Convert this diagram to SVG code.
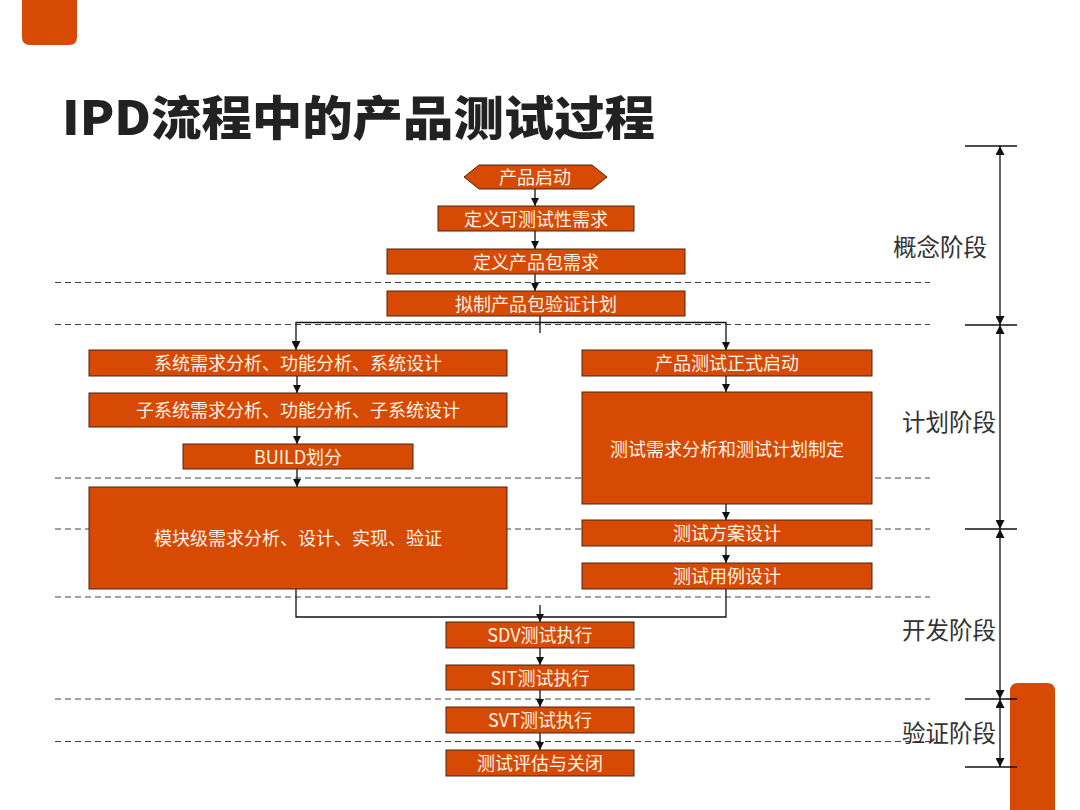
<svg xmlns="http://www.w3.org/2000/svg" width="1080" height="810" viewBox="0 0 1080 810">
<defs>
<style>
.box{fill:#D64A04;stroke:#4a2410;stroke-width:1}
.t{font-family:"Microsoft YaHei","Noto Sans CJK SC","Liberation Sans",sans-serif;font-size:18px;fill:#FFF3E6;text-anchor:middle;dominant-baseline:central}
.dash{stroke:#444;stroke-width:1.2;stroke-dasharray:6 4;fill:none}
.c{stroke:#111;stroke-width:1.3;fill:none}
.ph{font-family:"Microsoft YaHei","Noto Sans CJK SC","Liberation Sans",sans-serif;font-size:23.5px;fill:#333;dominant-baseline:central}
.ax{stroke:#111;stroke-width:1.3;fill:none}
</style>
<marker id="ah" viewBox="0 0 10 10" refX="10" refY="5" markerWidth="8" markerHeight="8" markerUnits="userSpaceOnUse" orient="auto">
<path d="M0,0 L10,5 L0,10 Z" fill="#111"/>
</marker>
<marker id="ahs" viewBox="0 0 10 10" refX="10" refY="5" markerWidth="9" markerHeight="9" markerUnits="userSpaceOnUse" orient="auto-start-reverse">
<path d="M0,0 L10,5 L0,10 Z" fill="#111"/>
</marker>
</defs>
<rect width="1080" height="810" fill="#ffffff"/>
<g id="decor">
<path d="M22,-10 H77 V37 Q77,45 69,45 H30 Q22,45 22,37 Z" fill="#D64A04"/>
<path d="M1010,691 Q1010,683 1018,683 H1047 Q1055,683 1055,691 V810 H1010 Z" fill="#D64A04"/>
</g>
<text id="title" x="62" y="135" font-family="'Noto Sans CJK SC','Liberation Sans',sans-serif" font-size="47" font-weight="900" fill="#222" textLength="593" lengthAdjust="spacingAndGlyphs">IPD流程中的产品测试过程</text>
<g id="phase-lines">
<line class="dash" x1="55" y1="282.5" x2="930" y2="282.5"/>
<line class="dash" x1="55" y1="324.5" x2="930" y2="324.5"/>
<line class="dash" x1="55" y1="478" x2="930" y2="478"/>
<line class="dash" x1="55" y1="529" x2="930" y2="529"/>
<line class="dash" x1="55" y1="597" x2="930" y2="597"/>
<line class="dash" x1="55" y1="699" x2="930" y2="699"/>
<line class="dash" x1="55" y1="741.5" x2="930" y2="741.5"/>
</g>
<g id="connectors">
<line class="c" x1="535" y1="189" x2="535" y2="206" marker-end="url(#ah)"/>
<line class="c" x1="535" y1="231" x2="535" y2="249" marker-end="url(#ah)"/>
<line class="c" x1="535" y1="274" x2="535" y2="291" marker-end="url(#ah)"/>
<line class="c" x1="540" y1="316" x2="540" y2="333"/>
<polyline class="c" points="296,350 296,322.5 726,322.5 726,350" marker-start="url(#ahs)" marker-end="url(#ah)"/>
<line class="c" x1="297" y1="376" x2="297" y2="393" marker-end="url(#ah)"/>
<line class="c" x1="297" y1="427" x2="297" y2="444" marker-end="url(#ah)"/>
<line class="c" x1="297" y1="469" x2="297" y2="487" marker-end="url(#ah)"/>
<line class="c" x1="726" y1="376" x2="726" y2="392" marker-end="url(#ah)"/>
<line class="c" x1="726" y1="504" x2="726" y2="520" marker-end="url(#ah)"/>
<line class="c" x1="726" y1="546" x2="726" y2="563" marker-end="url(#ah)"/>
<polyline class="c" points="296,589 296,617 726,617 726,589"/>
<line class="c" x1="540" y1="605" x2="540" y2="622" marker-end="url(#ah)"/>
<line class="c" x1="540" y1="648" x2="540" y2="665" marker-end="url(#ah)"/>
<line class="c" x1="540" y1="690" x2="540" y2="707" marker-end="url(#ah)"/>
<line class="c" x1="540" y1="733" x2="540" y2="750" marker-end="url(#ah)"/>
</g>
<g id="n-start"><polygon class="box" points="464,177 479,165 592,165 607,177 592,189 479,189"/><text class="t" x="535" y="176">产品启动</text></g>
<g id="n-testability"><rect class="box" x="438" y="206" width="196" height="25"/><text class="t" x="536" y="217.5">定义可测试性需求</text></g>
<g id="n-pkg-req"><rect class="box" x="387" y="249" width="298" height="25"/><text class="t" x="536" y="260.5">定义产品包需求</text></g>
<g id="n-verif-plan"><rect class="box" x="387" y="291" width="298" height="25"/><text class="t" x="536" y="302.5">拟制产品包验证计划</text></g>
<g id="n-sys"><rect class="box" x="89" y="350" width="418" height="26"/><text class="t" x="298" y="362">系统需求分析、功能分析、系统设计</text></g>
<g id="n-subsys"><rect class="box" x="89" y="393" width="418" height="34"/><text class="t" x="298" y="409">子系统需求分析、功能分析、子系统设计</text></g>
<g id="n-build"><rect class="box" x="183" y="444" width="230" height="25"/><text class="t" x="298" y="455.5">BUILD划分</text></g>
<g id="n-module"><rect class="box" x="89" y="487" width="418" height="102"/><text class="t" x="298" y="537">模块级需求分析、设计、实现、验证</text></g>
<g id="n-test-start"><rect class="box" x="582" y="350" width="290" height="26"/><text class="t" x="727" y="362">产品测试正式启动</text></g>
<g id="n-test-plan"><rect class="box" x="582" y="392" width="290" height="112"/><text class="t" x="727" y="448">测试需求分析和测试计划制定</text></g>
<g id="n-test-design"><rect class="box" x="582" y="520" width="290" height="26"/><text class="t" x="727" y="532">测试方案设计</text></g>
<g id="n-test-case"><rect class="box" x="582" y="563" width="290" height="26"/><text class="t" x="727" y="575">测试用例设计</text></g>
<g id="n-sdv"><rect class="box" x="446" y="622" width="188" height="26"/><text class="t" x="540" y="634">SDV测试执行</text></g>
<g id="n-sit"><rect class="box" x="446" y="665" width="188" height="25"/><text class="t" x="540" y="676.5">SIT测试执行</text></g>
<g id="n-svt"><rect class="box" x="446" y="707" width="188" height="26"/><text class="t" x="540" y="719">SVT测试执行</text></g>
<g id="n-close"><rect class="box" x="446" y="750" width="188" height="26"/><text class="t" x="540" y="762">测试评估与关闭</text></g>
<g id="phase-axis">
<line class="ax" x1="965" y1="146" x2="1017" y2="146"/>
<line class="ax" x1="965" y1="325" x2="1017" y2="325"/>
<line class="ax" x1="965" y1="529" x2="1017" y2="529"/>
<line class="ax" x1="965" y1="699" x2="1017" y2="699"/>
<line class="ax" x1="965" y1="767" x2="1017" y2="767"/>
<line class="ax" x1="1000" y1="146" x2="1000" y2="325" marker-start="url(#ahs)" marker-end="url(#ahs)"/>
<line class="ax" x1="1000" y1="325" x2="1000" y2="529" marker-start="url(#ahs)" marker-end="url(#ahs)"/>
<line class="ax" x1="1000" y1="529" x2="1000" y2="699" marker-start="url(#ahs)" marker-end="url(#ahs)"/>
<line class="ax" x1="1000" y1="699" x2="1000" y2="767" marker-start="url(#ahs)" marker-end="url(#ahs)"/>
<text class="ph" x="893" y="246">概念阶段</text>
<text class="ph" x="902" y="421">计划阶段</text>
<text class="ph" x="902" y="629">开发阶段</text>
<text class="ph" x="902" y="732">验证阶段</text>
</g>
</svg>
